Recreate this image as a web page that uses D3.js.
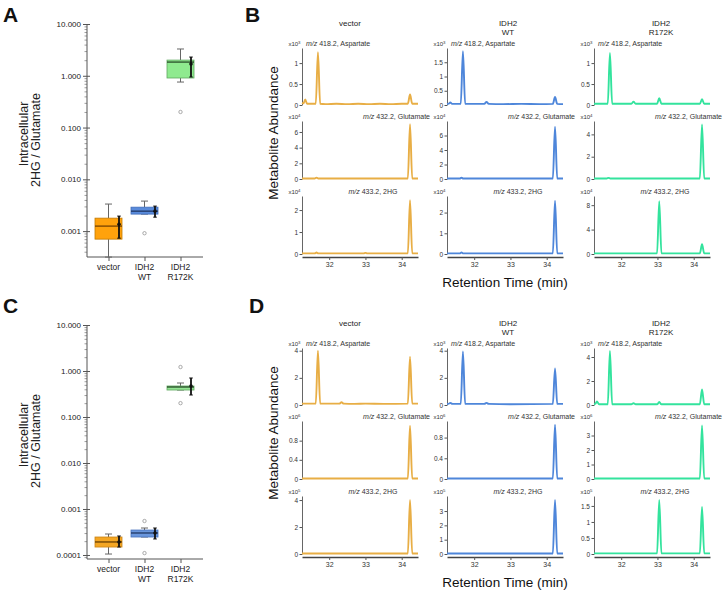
<!DOCTYPE html>
<html><head><meta charset="utf-8">
<script src="https://cdn.jsdelivr.net/npm/d3@7"></script>
<style>body{margin:0;background:#fff}svg{display:block;font-family:Arial,"Liberation Sans",sans-serif}</style>
</head><body><svg id="c" width="725" height="592"></svg>
<script>
// ---------- box-plot data ----------
const boxCats = ["vector", "IDH2 WT", "IDH2 R172K"];
const boxLabelLines = [["vector"], ["IDH2", "WT"], ["IDH2", "R172K"]];

const aTickVals = [10, 1, 0.1, 0.01, 0.001];
const aTickLabels = ["10.000", "1.000", "0.100", "0.010", "0.001"];
const aWhiskLo = [0.000315, 0.00213, 0.757];
const aQ1 = [0.00070, 0.00213, 0.906];
const aMedian = [0.00125, 0.00243, 1.84];
const aQ3 = [0.00178, 0.00290, 2.01];
const aWhiskHi = [0.00333, 0.00380, 3.29];
const aMean = [0.00136, 0.00243, 1.69];
const aErrLo = [0.00073, 0.00186, 0.946];
const aErrHi = [0.00195, 0.00304, 2.30];
const aOutliers = [[], [0.00091], [0.20]];

const cTickVals = [10, 1, 0.1, 0.01, 0.001, 0.0001];
const cTickLabels = ["10.000", "1.000", "0.100", "0.010", "0.001", "0.0001"];
const cWhiskLo = [0.000105, 0.000246, 0.386];
const cQ1 = [0.000149, 0.000246, 0.386];
const cMedian = [0.000192, 0.000301, 0.449];
const cQ3 = [0.000246, 0.000349, 0.472];
const cWhiskHi = [0.000286, 0.000386, 0.548];
const cMean = [0.000192, 0.000301, 0.472];
const cErrLo = [0.000149, 0.000223, 0.301];
const cErrHi = [0.000259, 0.000386, 0.704];
const cOutliers = [[], [0.000548, 0.00011], [1.22, 0.20]];

// ---------- chromatogram data ----------
const colNames = [["vector"], ["IDH2", "WT"], ["IDH2", "R172K"]];
const ionNames = ["418.2, Aspartate", "432.2, Glutamate", "433.2, 2HG"];
const rtTicks = [32, 33, 34];

// panel B
const bExp = [["3", "4", "4"], ["3", "4", "4"], ["3", "4", "4"]];
const bMax = [[1.36, 7.4, 2.64], [2.0, 8.0, 2.8], [1.36, 5.2, 9.5]];
const bTicks = [[[0, 0.5, 1], [0, 2, 4, 6], [0, 1, 2]],
                [[0, 0.5, 1, 1.5], [0, 2, 4, 6], [0, 1, 2]],
                [[0, 0.5, 1], [0, 2, 4], [0, 4, 8]]];
const bVecAsp = [[31.25,0.05],[31.29,0.04],[31.34,0.13],[31.39,0.03],[31.5,0.03],[31.63,0.03],[31.69,1.26],[31.75,0.03],[31.9,0.02],[32.2,0.03],[32.5,0.02],[32.8,0.03],[33.1,0.02],[33.4,0.03],[33.7,0.02],[34.0,0.03],[34.17,0.03],[34.23,0.25],[34.29,0.03],[34.45,0.03]];
const bVecGlu = [[31.25,0.06],[31.6,0.06],[31.65,0.18],[31.7,0.06],[33.0,0.06],[34.17,0.06],[34.23,7.0],[34.29,0.06],[34.45,0.06]];
const bVec2hg = [[31.25,0.03],[31.6,0.03],[31.65,0.07],[31.7,0.03],[32.95,0.03],[33.0,0.05],[33.05,0.03],[34.17,0.03],[34.23,2.45],[34.29,0.03],[34.45,0.03]];
const bWtAsp = [[31.25,0.04],[31.3,0.05],[31.34,0.09],[31.39,0.04],[31.63,0.04],[31.69,1.89],[31.75,0.04],[32.28,0.04],[32.34,0.11],[32.4,0.04],[32.8,0.03],[33.3,0.04],[33.8,0.03],[34.17,0.04],[34.23,0.28],[34.29,0.04],[34.45,0.03]];
const bWtGlu = [[31.25,0.06],[31.6,0.06],[31.65,0.18],[31.7,0.06],[34.17,0.06],[34.23,7.2],[34.29,0.06],[34.45,0.06]];
const bWt2hg = [[31.25,0.03],[31.6,0.03],[31.65,0.07],[31.7,0.03],[34.17,0.03],[34.23,2.57],[34.29,0.03],[34.45,0.03]];
const bMutAsp = [[31.25,0.03],[31.63,0.03],[31.69,1.24],[31.75,0.03],[32.28,0.03],[32.34,0.08],[32.4,0.03],[32.99,0.03],[33.05,0.16],[33.11,0.03],[34.17,0.03],[34.23,0.14],[34.29,0.03],[34.45,0.03]];
const bMutGlu = [[31.25,0.05],[31.6,0.05],[31.65,0.1],[31.7,0.05],[34.17,0.05],[34.23,4.9],[34.29,0.05],[34.45,0.05]];
const bMut2hg = [[31.25,0.1],[32.99,0.1],[33.05,8.65],[33.11,0.1],[34.17,0.1],[34.23,1.6],[34.29,0.1],[34.45,0.1]];

// panel D
const dExp = [["3", "6", "5"], ["3", "6", "5"], ["3", "6", "5"]];
const dMax = [[4.2, 1.21, 4.3], [4.2, 1.12, 4.05], [4.75, 4.0, 1.81]];
const dTicks = [[[0, 2, 4], [0, 0.4, 0.8], [0, 2, 4]],
                [[0, 2, 4], [0, 0.4, 0.8], [0, 1, 2, 3]],
                [[0, 2, 4], [0, 1, 2, 3], [0, 0.5, 1, 1.5]]];
const dVecAsp = [[31.25,0.1],[31.5,0.1],[31.63,0.1],[31.69,4.0],[31.75,0.1],[32.28,0.1],[32.34,0.2],[32.4,0.1],[32.7,0.08],[33.0,0.1],[33.5,0.08],[34.17,0.1],[34.23,3.55],[34.29,0.1],[34.45,0.1]];
const dVecGlu = [[31.25,0.01],[34.17,0.01],[34.23,1.11],[34.29,0.01],[34.45,0.01]];
const dVec2hg = [[31.25,0.04],[34.17,0.04],[34.23,4.0],[34.29,0.04],[34.45,0.04]];
const dWtAsp = [[31.25,0.08],[31.29,0.08],[31.34,0.16],[31.4,0.08],[31.63,0.08],[31.69,3.95],[31.75,0.08],[32.28,0.08],[32.34,0.16],[32.4,0.08],[33.0,0.06],[34.17,0.08],[34.23,2.7],[34.29,0.08],[34.45,0.08]];
const dWtGlu = [[31.25,0.01],[34.17,0.01],[34.23,1.05],[34.29,0.01],[34.45,0.01]];
const dWt2hg = [[31.25,0.04],[34.17,0.04],[34.23,3.78],[34.29,0.04],[34.45,0.04]];
const dMutAsp = [[31.25,0.06],[31.29,0.1],[31.33,0.3],[31.39,0.06],[31.63,0.06],[31.69,4.5],[31.75,0.06],[32.28,0.06],[32.34,0.15],[32.4,0.06],[32.99,0.06],[33.05,0.25],[33.11,0.06],[34.17,0.06],[34.23,1.3],[34.29,0.06],[34.45,0.06]];
const dMutGlu = [[31.25,0.03],[34.17,0.03],[34.23,3.7],[34.29,0.03],[34.45,0.03]];
const dMut2hg = [[31.25,0.02],[32.99,0.02],[33.05,1.69],[33.11,0.02],[34.17,0.02],[34.23,1.47],[34.29,0.02],[34.45,0.02]];

// ---------- styles ----------
const traceColors = ["#E8AE45", "#4E86DA", "#33E39D"];
const svg = d3.select("#c");

function letter(t, x, y) {
  svg.append("text").attr("x", x).attr("y", y).attr("font-size", 21).attr("font-weight", "bold").attr("fill", "#111").text(t);
}

// ---------- box plot panel ----------
function boxPanel(cfg) {
  const g = svg.append("g");
  const axisX = 87;
  const y = d3.scaleLog().domain(cfg.domain).range([cfg.bottom, cfg.top]);
  const x = d3.scalePoint().domain(boxCats).range([108.5, 180.5]);
  const majorLog = cfg.tickVals.map(v => Math.round(Math.log10(v)));
  const minor = y.ticks().filter(v => !majorLog.includes(Math.log10(v)) || Math.abs(Math.log10(v) - Math.round(Math.log10(v))) > 1e-6);
  g.append("g").attr("transform", `translate(${axisX},0)`)
    .call(d3.axisLeft(y).tickValues(minor).tickFormat("").tickSize(2.5).tickSizeOuter(0))
    .call(s => s.select(".domain").remove())
    .call(s => s.selectAll("line").attr("stroke", "#888").attr("stroke-width", 0.8));
  const ax = g.append("g").attr("transform", `translate(${axisX},0)`)
    .call(d3.axisLeft(y).tickValues(cfg.tickVals).tickFormat((d, i) => cfg.tickLabels[i]).tickSize(4).tickPadding(2).tickSizeOuter(0));
  ax.select(".domain").attr("stroke", "#555").attr("d", `M0,${cfg.bottom}V${cfg.top}`);
  ax.selectAll(".tick line").attr("stroke", "#555").attr("x1", 3);
  ax.selectAll(".tick text").attr("font-size", 8).attr("fill", "#222").attr("font-family", "Arial");
  // x axis
  g.append("line").attr("x1", axisX).attr("x2", 203).attr("y1", cfg.bottom).attr("y2", cfg.bottom).attr("stroke", "#555");
  const xa = g.append("g").attr("transform", `translate(0,${cfg.bottom})`)
    .call(d3.axisBottom(x).tickSize(4).tickFormat(""));
  xa.select(".domain").remove();
  xa.selectAll("line").attr("stroke", "#555");
  boxCats.forEach((c, i) => {
    boxLabelLines[i].forEach((t, j) => {
      g.append("text").attr("x", x(c)).attr("y", cfg.bottom + 13 + j * 10).attr("text-anchor", "middle")
        .attr("font-size", 8.5).attr("fill", "#222").text(t);
    });
  });
  // boxes
  const hw = 13.5;
  boxCats.forEach((c, i) => {
    const cx = x(c);
    // whiskers
    g.append("line").attr("x1", cx).attr("x2", cx).attr("y1", y(cfg.q3[i])).attr("y2", y(cfg.whiskHi[i])).attr("stroke", "#666");
    g.append("line").attr("x1", cx).attr("x2", cx).attr("y1", y(cfg.q1[i])).attr("y2", y(cfg.whiskLo[i])).attr("stroke", "#666");
    [cfg.whiskHi[i], cfg.whiskLo[i]].forEach(v => {
      g.append("line").attr("x1", cx - 3.5).attr("x2", cx + 3.5).attr("y1", y(v)).attr("y2", y(v)).attr("stroke", "#666");
    });
    g.append("rect").attr("x", cx - hw).attr("width", 2 * hw)
      .attr("y", y(cfg.q3[i])).attr("height", Math.max(1, y(cfg.q1[i]) - y(cfg.q3[i])))
      .attr("fill", cfg.fills[i]).attr("stroke", cfg.strokes[i]).attr("stroke-width", 0.8);
    g.append("line").attr("x1", cx - hw).attr("x2", cx + hw).attr("y1", y(cfg.median[i])).attr("y2", y(cfg.median[i]))
      .attr("stroke", cfg.medians[i]).attr("stroke-width", 1.2);
    cfg.outliers[i].forEach(v => {
      g.append("circle").attr("cx", cx).attr("cy", y(v)).attr("r", 1.7).attr("fill", "none").attr("stroke", "#888").attr("stroke-width", 0.7);
    });
    // mean +/- error
    const ex = cx + 10.5;
    g.append("line").attr("x1", ex).attr("x2", ex).attr("y1", y(cfg.errHi[i])).attr("y2", y(cfg.errLo[i])).attr("stroke", "#111").attr("stroke-width", 1.8);
    [cfg.errHi[i], cfg.errLo[i]].forEach(v => {
      g.append("line").attr("x1", ex - 1.8).attr("x2", ex + 1.8).attr("y1", y(v)).attr("y2", y(v)).attr("stroke", "#111").attr("stroke-width", 1);
    });
    g.append("circle").attr("cx", ex).attr("cy", y(cfg.mean[i])).attr("r", 1.8).attr("fill", "#111");
  });
  // y label
  cfg.ylab.forEach((l, j) => {
    g.append("text").attr("transform", `translate(${l.x},${l.y}) rotate(-90)`).attr("text-anchor", "middle")
      .attr("font-size", 12.5).attr("fill", "#222").text(l.t);
  });
}

letter("A", 3, 22);
boxPanel({
  domain: [Math.pow(10, -3.5), 10], top: 24, bottom: 257,
  tickVals: aTickVals, tickLabels: aTickLabels,
  whiskLo: aWhiskLo, q1: aQ1, median: aMedian, q3: aQ3, whiskHi: aWhiskHi,
  mean: aMean, errLo: aErrLo, errHi: aErrHi, outliers: aOutliers,
  fills: ["#FFA20C", "#5A8BDB", "#8FEA8F"], strokes: ["#C27A00", "#3F6DBA", "#5FA85F"],
  medians: ["#6B3B00", "#1A2F5A", "#1F3F1F"],
  ylab: [{ t: "Intracellular", x: 28, y: 134 }, { t: "2HG / Glutamate", x: 40, y: 140 }]
});

letter("C", 3, 313);
boxPanel({
  domain: [Math.pow(10, -4.087), 10], top: 325, bottom: 559,
  tickVals: cTickVals, tickLabels: cTickLabels,
  whiskLo: cWhiskLo, q1: cQ1, median: cMedian, q3: cQ3, whiskHi: cWhiskHi,
  mean: cMean, errLo: cErrLo, errHi: cErrHi, outliers: cOutliers,
  fills: ["#F4A623", "#6A96DC", "#93E493"], strokes: ["#C98314", "#4571BD", "#62A862"],
  medians: ["#5B3600", "#1A2F5A", "#1F3F1F"],
  ylab: [{ t: "Intracellular", x: 28, y: 435 }, { t: "2HG / Glutamate", x: 40, y: 441 }]
});

// ---------- chromatogram panel ----------
const rtDomain = [31.25, 34.45];
const colX = [302, 447, 594];
const colW = 116;
const rowTop = [48, 121, 196];
const rowBot = [105, 179, 254];
const xAxisY = 257;
const titleX = [350, 508, 661];

function chromPanel(off, traces, maxes, ticks, exps) {
  const g = svg.append("g");
  colNames.forEach((lines, c) => {
    lines.forEach((t, j) => {
      g.append("text").attr("x", titleX[c]).attr("y", off + 26 + j * 9).attr("text-anchor", "middle")
        .attr("font-size", 8).attr("fill", "#222").text(t);
    });
  });
  for (let c = 0; c < 3; c++) {
    const xs = d3.scaleLinear().domain(rtDomain).range([colX[c], colX[c] + colW]);
    for (let r = 0; r < 3; r++) {
      const ys = d3.scaleLinear().domain([0, maxes[c][r]]).range([rowBot[r] + off, rowTop[r] + off]);
      const ay = g.append("g").attr("transform", `translate(${colX[c]},0)`)
        .call(d3.axisLeft(ys).tickValues(ticks[c][r]).tickFormat(d3.format("~g")).tickSize(2.5).tickPadding(1.5).tickSizeOuter(0));
      ay.select(".domain").attr("stroke", "#555").attr("stroke-width", 0.9);
      ay.selectAll(".tick line").attr("stroke", "#555");
      ay.selectAll(".tick text").attr("font-size", 6.5).attr("fill", "#333");
      // multiplier
      const mt = g.append("text").attr("x", colX[c] - 1.5).attr("y", rowTop[r] + off - 2).attr("text-anchor", "end")
        .attr("font-size", 6).attr("fill", "#333");
      mt.append("tspan").text("x10");
      mt.append("tspan").attr("dy", -2.5).attr("font-size", 4.3).text(exps[c][r]);
      // ion label
      let lx, anchor;
      if (r === 0) { lx = colX[c] + 4; anchor = "start"; }
      else if (r === 1) { lx = colX[c] + colW + 12; anchor = "end"; }
      else { lx = colX[c] + colW / 2 + 13; anchor = "middle"; }
      const lt = g.append("text").attr("x", lx).attr("y", rowTop[r] + off - 2).attr("text-anchor", anchor)
        .attr("font-size", 7).attr("fill", "#333");
      lt.append("tspan").attr("font-style", "italic").text("m/z");
      lt.append("tspan").text(" " + ionNames[r]);
      // trace
      const line = d3.line().x(d => xs(d[0])).y(d => ys(d[1])).curve(d3.curveMonotoneX);
      g.append("path").datum(traces[c][r]).attr("d", line).attr("fill", "none")
        .attr("stroke", traceColors[c]).attr("stroke-width", 1.9).attr("stroke-linejoin", "round");
    }
    const axb = g.append("g").attr("transform", `translate(0,${xAxisY + off})`)
      .call(d3.axisBottom(xs).tickValues(rtTicks).tickFormat(d3.format("d")).tickSize(3).tickPadding(2).tickSizeOuter(0));
    axb.select(".domain").attr("stroke", "#444").attr("stroke-width", 1.6);
    axb.selectAll(".tick line").attr("stroke", "#555");
    axb.selectAll(".tick text").attr("font-size", 7).attr("fill", "#333");
  }
  g.append("text").attr("transform", `translate(278,${off + 133}) rotate(-90)`).attr("text-anchor", "middle")
    .attr("font-size", 13.5).attr("fill", "#111").text("Metabolite Abundance");
  g.append("text").attr("x", 505).attr("y", off + 287).attr("text-anchor", "middle")
    .attr("font-size", 13.5).attr("fill", "#111").text("Retention Time (min)");
}

letter("B", 245, 22);
chromPanel(0,
  [[bVecAsp, bVecGlu, bVec2hg], [bWtAsp, bWtGlu, bWt2hg], [bMutAsp, bMutGlu, bMut2hg]],
  bMax, bTicks, bExp);
letter("D", 249, 313);
chromPanel(300,
  [[dVecAsp, dVecGlu, dVec2hg], [dWtAsp, dWtGlu, dWt2hg], [dMutAsp, dMutGlu, dMut2hg]],
  dMax, dTicks, dExp);
</script></body></html>
